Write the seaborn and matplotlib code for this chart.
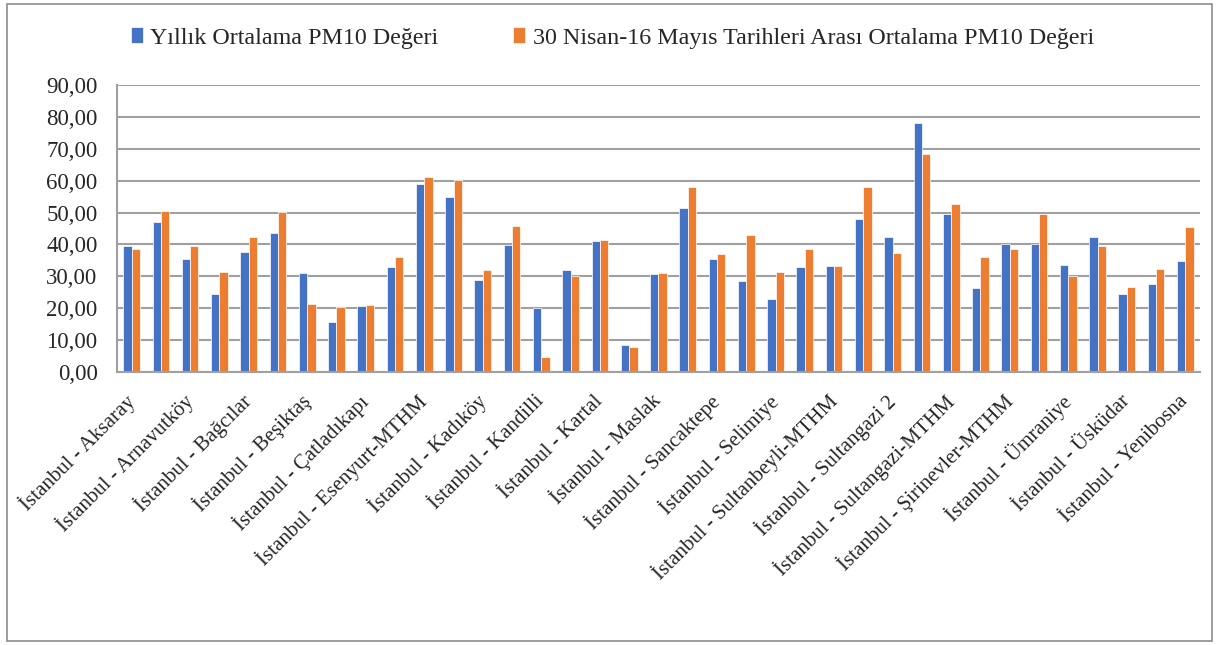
import numpy as np
import pandas as pd
import matplotlib
matplotlib.use("Agg")
import matplotlib.pyplot as plt
from matplotlib.patches import Rectangle
from matplotlib.ticker import FuncFormatter
import seaborn as sns

# ── Data ────────────────────────────────────────────────────────────────────
stations = [
    "İstanbul - Aksaray", "İstanbul - Alibeyköy", "İstanbul - Arnavutköy",
    "İstanbul - Ataşehir", "İstanbul - Bağcılar", "İstanbul - Başakşehir-MTHM",
    "İstanbul - Beşiktaş", "İstanbul - Beylikdüzü", "İstanbul - Çatladıkapı",
    "İstanbul - Esenler", "İstanbul - Esenyurt-MTHM", "İstanbul - Göztepe",
    "İstanbul - Kadıköy", "İstanbul - Kağıthane", "İstanbul - Kandilli",
    "İstanbul - Kandilli-İBB", "İstanbul - Kartal", "İstanbul - Kumköy",
    "İstanbul - Maslak", "İstanbul - Mecidiyeköy-MTHM", "İstanbul - Sancaktepe",
    "İstanbul - Sarıyer", "İstanbul - Selimiye", "İstanbul - Silivri-MTHM",
    "İstanbul - Sultanbeyli-MTHM", "İstanbul - Sultangazi", "İstanbul - Sultangazi 2",
    "İstanbul - Sultangazi 3", "İstanbul - Sultangazi-MTHM", "İstanbul - Şile",
    "İstanbul - Şirinevler-MTHM", "İstanbul - Tuzla", "İstanbul - Ümraniye",
    "İstanbul - Ümraniye-MTHM", "İstanbul - Üsküdar", "İstanbul - Yakacık",
    "İstanbul - Yenibosna",
]
yillik = [39.6, 47.2, 35.5, 24.5, 37.7, 43.5, 30.9, 15.7, 20.7, 32.9,
          58.9, 55.0, 29.0, 39.7, 20.1, 32.1, 41.1, 8.6, 30.6, 51.3,
          35.5, 28.5, 22.9, 33.0, 33.1, 47.9, 42.4, 78.2, 49.5, 26.4,
          40.3, 40.3, 33.6, 42.3, 24.5, 27.6, 34.7]
nisan_mayis = [38.6, 50.5, 39.5, 31.3, 42.5, 50.2, 21.3, 20.3, 20.9, 36.0,
               61.1, 60.2, 32.0, 45.9, 4.8, 30.1, 41.4, 7.9, 31.0, 58.0,
               36.9, 42.9, 31.5, 38.7, 33.4, 57.9, 37.2, 68.3, 52.6, 36.1,
               38.5, 49.6, 30.1, 39.4, 26.8, 32.4, 45.5]
series_names = ["Yıllık Ortalama PM10 Değeri",
                "30 Nisan-16 Mayıs Tarihleri Arası Ortalama PM10 Değeri"]

df = pd.DataFrame({
    "station": stations * 2,
    "value": yillik + nisan_mayis,
    "series": [series_names[0]] * len(stations) + [series_names[1]] * len(stations),
})

# ── Style ───────────────────────────────────────────────────────────────────
sns.set_style("white")
plt.rcParams["font.family"] = ["Liberation Serif", "DejaVu Serif"]
grid_col = "#a0a0a0"

fig = plt.figure(figsize=(12.17, 6.45), dpi=100)
ax = fig.add_axes([0.0961, 0.4233, 0.8899, 0.4447])

sns.barplot(data=df, x="station", y="value", hue="series", order=stations,
            hue_order=series_names, palette=["#4472C4", "#ED7D31"],
            saturation=1, width=0.57, gap=0, edgecolor="white", linewidth=0.5,
            errorbar=None, ax=ax, legend=True)

ax.set_xlim(-0.5, len(stations) - 0.5)
ax.set_ylim(0, 90)
ax.set_yticks(np.arange(0, 91, 10))
ax.yaxis.set_major_formatter(FuncFormatter(lambda v, p: f"{v:.2f}".replace(".", ",")))
ax.set_axisbelow(True)
ax.yaxis.grid(True, color=grid_col, lw=1.5)
ax.set_xlabel("")
ax.set_ylabel("")

# tick marks between categories, labels on every other category
ax.set_xticks(np.arange(-0.5, len(stations), 1))
ax.set_xticklabels([])
ax.set_xticks(np.arange(0, len(stations), 2), minor=True)
ax.set_xticklabels(stations[::2], minor=True, rotation=45, ha="right",
                   va="center", rotation_mode="anchor", fontsize=15)
ax.tick_params(axis="x", which="major", length=6, width=1.2, color=grid_col,
               direction="out")
ax.tick_params(axis="x", which="minor", length=0, pad=19)
ax.tick_params(axis="y", length=7, width=1.5, color=grid_col, labelsize=16.5,
               pad=7)

for side in ["top", "right"]:
    ax.spines[side].set_visible(False)
for side in ["left", "bottom"]:
    ax.spines[side].set_color(grid_col)
    ax.spines[side].set_linewidth(1.5)

# legend on top
handles, labels = ax.get_legend_handles_labels()
ax.get_legend().remove()
fig.legend(handles, labels, loc="center", bbox_to_anchor=(0.503, 0.941),
           ncol=2, frameon=False, fontsize=17.3, handlelength=0.52,
           handleheight=0.65, handletextpad=0.3, columnspacing=3.1)

# outer chart border
fig.patches.append(Rectangle((7 / 1217, 4 / 645), 1205 / 1217, 637 / 645,
                             transform=fig.transFigure, fill=False,
                             edgecolor="#8c8c8c", lw=1.2))

fig.savefig("out.png", dpi=100)
